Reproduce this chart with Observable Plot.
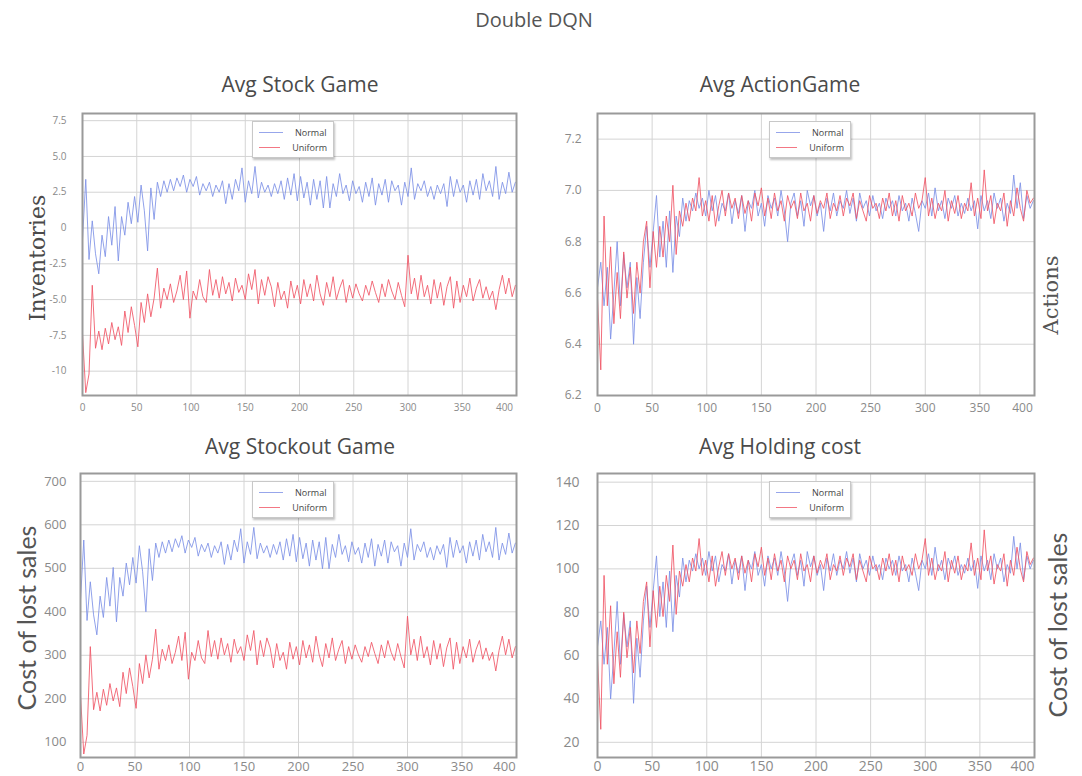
<!DOCTYPE html>
<html><head><meta charset="utf-8">
<script src="https://cdn.jsdelivr.net/npm/d3@7"></script>
<script src="https://cdn.jsdelivr.net/npm/@observablehq/plot@0.6"></script>
<style>
body{margin:0;background:#fff;}
#root{position:relative;width:1082px;height:776px;overflow:hidden;font-family:"Open Sans",sans-serif;background:#fff;}
.ttl{position:absolute;text-align:center;color:#4a4a4a;line-height:1;white-space:nowrap;transform:translateX(-50%);}
.ylab{position:absolute;white-space:nowrap;line-height:1;color:#4a4a4a;transform:translate(-50%,-50%) rotate(-90deg);}
.legend{position:absolute;background:#fff;border:1px solid #c8c8c8;box-shadow:1px 2px 2px rgba(0,0,0,0.25);font-size:9px;color:#444;padding:3px 6px 3px 6px;box-sizing:border-box;}
.legend .row{display:flex;align-items:center;height:15px;}
.legend .sw{width:24px;height:0;margin-right:12px;border-top:1.2px solid;opacity:0.8;}
</style></head><body><div id="root"></div><script>
// ---- data ----
const episodes = d3.range(0, 400, 3);
const xTicks = [0, 50, 100, 150, 200, 250, 300, 350, 400];
const seriesNames = ["Normal", "Uniform"];

const stockNormal = [-0.8,3.4,-2.2,0.5,-1.8,-3.2,-0.5,-2.0,0.8,-1.2,1.5,-2.3,0.8,-0.5,1.8,0.3,2.2,0.4,3.0,1.2,-1.6,2.8,0.6,3.2,2.2,3.3,2.5,3.4,2.6,3.5,2.9,3.7,2.5,3.4,2.9,3.6,2.3,3.1,2.6,3.2,2.2,3.0,2.5,3.3,1.7,3.1,2.0,3.4,2.6,4.2,1.8,3.3,2.4,4.3,2.1,3.2,2.5,3.0,2.2,3.1,2.4,3.3,2.0,3.5,2.3,3.8,1.9,3.6,2.1,3.2,1.6,3.4,2.0,3.3,1.4,3.6,1.4,3.1,2.2,3.8,2.4,3.0,1.9,3.3,2.4,2.9,1.8,3.2,2.2,3.5,1.6,3.1,2.3,3.4,1.8,3.3,2.6,3.0,1.6,3.2,2.2,4.2,2.0,3.1,2.6,3.3,2.2,2.9,2.0,3.0,2.4,3.1,1.5,3.6,2.2,3.4,2.5,3.0,1.8,3.3,2.3,3.4,2.0,3.8,2.6,3.3,2.2,4.3,2.0,3.2,2.4,3.9,2.5,3.2];
const stockUniform = [-7.4,-11.5,-10.2,-4.0,-8.4,-7.2,-8.5,-7.0,-8.1,-6.6,-7.8,-6.9,-8.2,-5.8,-7.3,-5.5,-6.8,-8.3,-5.2,-6.6,-4.6,-6.2,-4.9,-2.8,-5.6,-4.2,-5.0,-3.9,-5.2,-4.4,-3.3,-5.0,-3.0,-6.3,-4.4,-5.0,-3.6,-4.8,-5.2,-2.9,-4.7,-3.6,-4.9,-3.4,-4.6,-3.8,-5.1,-3.5,-4.5,-4.0,-5.0,-3.2,-4.3,-2.9,-5.3,-3.6,-4.7,-3.4,-4.1,-5.5,-3.8,-5.0,-4.4,-5.6,-3.7,-4.9,-4.0,-5.3,-3.6,-4.8,-3.9,-5.1,-3.3,-4.6,-5.4,-3.8,-4.8,-3.4,-5.0,-4.2,-3.6,-5.2,-4.0,-4.9,-3.9,-4.6,-5.1,-4.0,-4.7,-3.7,-4.5,-5.2,-3.9,-4.8,-3.6,-4.4,-5.0,-3.8,-4.7,-5.5,-1.9,-4.6,-3.5,-5.0,-3.3,-4.8,-4.0,-5.3,-3.6,-4.9,-3.8,-5.4,-4.1,-3.4,-5.6,-3.7,-5.2,-4.0,-4.8,-3.5,-5.1,-4.2,-3.6,-4.9,-4.1,-5.0,-4.4,-5.7,-4.3,-3.3,-4.6,-3.5,-4.8,-4.0];

const actionNormal = [6.62,6.72,6.55,6.70,6.42,6.60,6.80,6.55,6.75,6.62,6.72,6.40,6.66,6.50,6.72,6.86,6.70,6.84,6.98,6.74,6.88,6.70,6.92,6.68,6.90,6.82,6.97,6.88,6.96,6.92,6.99,6.93,6.97,6.90,7.00,6.92,6.98,6.88,6.95,6.92,6.99,6.87,6.96,6.91,6.98,6.84,6.96,6.93,7.00,6.90,6.95,6.86,6.98,6.93,6.97,6.90,7.00,6.92,6.80,6.95,6.99,6.90,6.96,6.86,7.00,6.94,6.98,6.90,6.95,6.84,6.97,6.92,6.99,6.90,6.96,6.93,7.00,6.91,6.97,6.88,6.99,6.93,6.96,6.90,6.98,6.92,6.95,6.89,6.97,6.93,6.96,6.90,6.98,6.92,6.95,6.88,6.97,6.91,6.84,6.96,6.93,6.99,6.90,7.01,6.92,6.96,6.89,6.97,6.93,6.98,6.90,6.95,6.91,6.97,6.92,6.96,6.85,6.98,6.92,6.96,6.89,6.99,6.93,6.97,6.88,6.95,6.91,7.06,6.93,7.03,6.89,6.98,6.93,6.96];
const actionUniform = [6.58,6.30,6.90,6.55,6.78,6.48,6.68,6.50,6.76,6.58,6.70,6.52,6.72,6.60,6.80,6.88,6.62,6.84,6.70,6.86,6.74,6.90,6.80,7.02,6.75,6.92,6.86,6.95,6.88,6.97,6.92,7.05,6.90,6.96,6.88,6.98,6.86,6.94,7.00,6.90,6.99,6.93,6.97,6.89,6.98,6.91,6.96,6.88,6.99,6.94,7.01,6.90,6.97,6.89,6.99,6.92,6.96,6.88,6.98,6.93,6.96,6.89,6.99,6.92,6.95,6.88,6.98,6.91,6.96,6.93,6.99,6.89,6.95,6.92,6.98,6.90,6.97,6.94,6.99,6.89,6.96,6.92,6.88,6.98,6.93,6.95,6.89,6.97,6.92,6.99,6.90,6.96,6.88,6.98,6.92,6.95,6.90,6.99,6.93,6.96,7.05,6.90,6.97,6.89,6.95,6.92,7.00,6.88,6.96,6.91,6.98,6.89,6.95,6.92,7.03,6.90,6.97,6.89,7.08,6.92,6.98,6.87,6.95,6.92,6.99,6.86,6.96,6.90,7.01,6.93,6.88,7.00,6.95,6.97];

const stockoutNormal = [426,565,380,469,393,347,436,387,479,413,502,377,479,436,512,462,525,466,552,492,400,545,472,558,525,561,535,565,538,568,548,575,535,565,548,571,528,555,538,558,525,552,535,561,509,555,519,565,538,591,512,561,532,594,522,558,535,552,525,555,532,561,519,568,528,578,515,571,522,558,505,565,519,561,499,571,499,555,525,578,532,552,515,561,532,548,512,558,525,568,505,555,528,565,512,561,538,552,505,558,525,591,519,555,538,561,525,548,519,552,532,555,502,571,525,565,535,552,512,561,528,565,519,578,538,561,525,594,519,558,532,581,535,558];
const stockoutUniform = [208,73,116,320,175,215,172,222,185,235,195,225,182,261,212,271,228,178,281,235,301,248,291,360,268,314,288,324,281,307,344,288,353,245,307,288,334,294,281,357,297,334,291,340,301,327,284,337,304,320,288,347,311,357,278,334,297,340,317,271,327,288,307,268,330,291,320,278,334,294,324,284,344,301,274,327,294,340,288,314,334,281,320,291,324,301,284,320,297,330,304,281,324,294,334,307,288,327,297,271,390,301,337,288,344,294,320,278,334,291,327,274,317,340,268,330,281,320,294,337,284,314,334,291,317,288,307,264,311,344,301,337,294,320];

const holdingNormal = [64,76,56,73,40,61,85,56,79,64,76,38,68,50,76,92,73,90,106,78,94,73,99,71,97,87,105,94,104,99,107,100,105,97,108,99,106,94,102,99,107,93,104,98,106,90,104,100,108,97,102,92,106,100,105,97,108,99,85,102,107,97,104,92,108,101,106,97,102,90,105,99,107,97,104,100,108,98,105,94,107,100,104,97,106,99,102,95,105,100,104,97,106,99,102,94,105,98,90,104,100,107,97,110,99,104,95,105,100,106,97,102,98,105,99,104,91,106,99,104,95,107,100,105,94,102,98,115,100,112,95,106,100,104];
const holdingUniform = [59,26,97,56,83,47,71,50,80,59,73,52,76,61,85,94,64,90,73,92,78,97,85,111,79,99,92,102,94,105,99,114,97,104,94,106,92,101,108,97,107,100,105,95,106,98,104,94,107,101,110,97,105,95,107,99,104,94,106,100,104,95,107,99,102,94,106,98,104,100,107,95,102,99,106,97,105,101,107,95,104,99,94,106,100,102,95,105,99,107,97,104,94,106,99,102,97,107,100,104,114,97,105,95,102,99,108,94,104,98,106,95,102,99,112,97,105,95,118,99,106,93,102,99,107,92,104,97,110,100,94,108,102,105];

const stockTicks = [-10, -7.5, -5, -2.5, 0, 2.5, 5, 7.5];
const actionTicks = [6.2, 6.4, 6.6, 6.8, 7.0, 7.2];
const stockoutTicks = [100, 200, 300, 400, 500, 600, 700];
const holdingTicks = [20, 40, 60, 80, 100, 120, 140];

// ---- drawing ----
const root = document.getElementById("root");
const BLUE = "#7d90e6", RED = "#f05565";

function rows(normal, uniform) {
  return [
    ...normal.map((v, i) => ({x: episodes[i], y: v, s: seriesNames[0]})),
    ...uniform.map((v, i) => ({x: episodes[i], y: v, s: seriesNames[1]}))
  ];
}

function panel(o) {
  const data = rows(o.normal, o.uniform);
  const mainTicks = xTicks.slice(0, -1);
  const lastTick = xTicks.slice(-1);
  const p = Plot.plot({
    width: o.width, height: o.height,
    marginLeft: o.ml, marginRight: o.mr, marginTop: o.mt, marginBottom: o.mb,
    style: {fontFamily: "'Open Sans', sans-serif", fontSize: o.fs + "px", color: "#8a8a8a", background: "transparent", overflow: "visible"},
    x: {domain: [0, 400], label: null},
    y: {domain: o.yDomain, label: null},
    color: {domain: seriesNames, range: [BLUE, RED]},
    marks: [
      Plot.gridX(xTicks, {stroke: "#d4d4d4", strokeOpacity: 1, strokeWidth: 1}),
      Plot.gridY(o.yTicks, {stroke: "#d4d4d4", strokeOpacity: 1, strokeWidth: 1}),
      Plot.axisX(mainTicks, {tickSize: 0, tickPadding: o.xpad, tickFormat: d => String(d), label: null}),
      Plot.axisX(lastTick, {tickSize: 0, tickPadding: o.xpad, tickFormat: d => String(d), label: null, dx: -12}),
      Plot.axisY(o.yTicks, {tickSize: 0, tickPadding: o.ypad, tickFormat: o.yFmt, label: null}),
      Plot.line(data, {x: "x", y: "y", z: "s", stroke: "s", strokeWidth: 1, strokeOpacity: 0.85}),
      Plot.frame({stroke: "#9a9a9a", strokeWidth: 2})
    ]
  });
  p.style.position = "absolute";
  p.style.left = o.left + "px";
  p.style.top = o.top + "px";
  root.appendChild(p);
}

function text(cls, str, css) {
  const d = document.createElement("div");
  d.className = cls;
  d.textContent = str;
  Object.assign(d.style, css);
  root.appendChild(d);
}

function legend(left, top) {
  const d = document.createElement("div");
  d.className = "legend";
  Object.assign(d.style, {left: left + "px", top: top + "px", width: "82px", height: "37px"});
  seriesNames.forEach((n, i) => {
    const r = document.createElement("div");
    r.className = "row";
    const sw = document.createElement("span");
    sw.className = "sw";
    sw.style.borderColor = i === 0 ? BLUE : RED;
    const t = document.createElement("span");
    t.textContent = n;
    r.appendChild(sw); r.appendChild(t);
    d.appendChild(r);
  });
  root.appendChild(d);
}

const fmtStock = d => d === 0 ? "0" : (Math.abs(d) >= 10 ? String(d) : d.toFixed(1));

panel({normal: stockNormal, uniform: stockUniform, yDomain: [-11.7, 8], yTicks: stockTicks, yFmt: fmtStock,
  left: 0, top: 100, width: 540, height: 320, ml: 82, mr: 24, mt: 13, mb: 25, fs: 10, xpad: 8, ypad: 16});
panel({normal: actionNormal, uniform: actionUniform, yDomain: [6.2, 7.3], yTicks: actionTicks, yFmt: d => d.toFixed(1),
  left: 540, top: 100, width: 542, height: 320, ml: 57, mr: 48, mt: 13, mb: 25, fs: 12, xpad: 8, ypad: 16});
panel({normal: stockoutNormal, uniform: stockoutUniform, yDomain: [65, 718], yTicks: stockoutTicks, yFmt: d => String(d),
  left: 0, top: 460, width: 540, height: 316, ml: 80, mr: 24, mt: 13, mb: 19, fs: 13, xpad: 4, ypad: 14});
panel({normal: holdingNormal, uniform: holdingUniform, yDomain: [13, 144], yTicks: holdingTicks, yFmt: d => String(d),
  left: 540, top: 460, width: 542, height: 316, ml: 57, mr: 48, mt: 13, mb: 19, fs: 14, xpad: 4, ypad: 18});

text("ttl", "Double DQN", {left: "534px", top: "10px", fontSize: "20px", color: "#555"});
text("ttl", "Avg Stock Game", {left: "300px", top: "74px", fontSize: "21px"});
text("ttl", "Avg ActionGame", {left: "780px", top: "74px", fontSize: "21px"});
text("ttl", "Avg Stockout Game", {left: "300px", top: "436px", fontSize: "21px"});
text("ttl", "Avg Holding cost", {left: "780px", top: "436px", fontSize: "21px"});

text("ylab", "Inventories", {left: "38px", top: "258px", fontSize: "22px", fontFamily: "'DejaVu Serif', serif"});
text("ylab", "Actions", {left: "1051px", top: "295px", fontSize: "21px", fontFamily: "'DejaVu Serif', serif", color: "#555"});
text("ylab", "Cost of lost sales", {left: "26px", top: "618px", fontSize: "25px", fontFamily: "Lato, sans-serif", color: "#555"});
text("ylab", "Cost of lost sales", {left: "1057px", top: "625px", fontSize: "25px", fontFamily: "Lato, sans-serif", color: "#555"});

legend(252, 121);
legend(769, 121);
legend(252, 481);
legend(769, 481);
</script></body></html>
